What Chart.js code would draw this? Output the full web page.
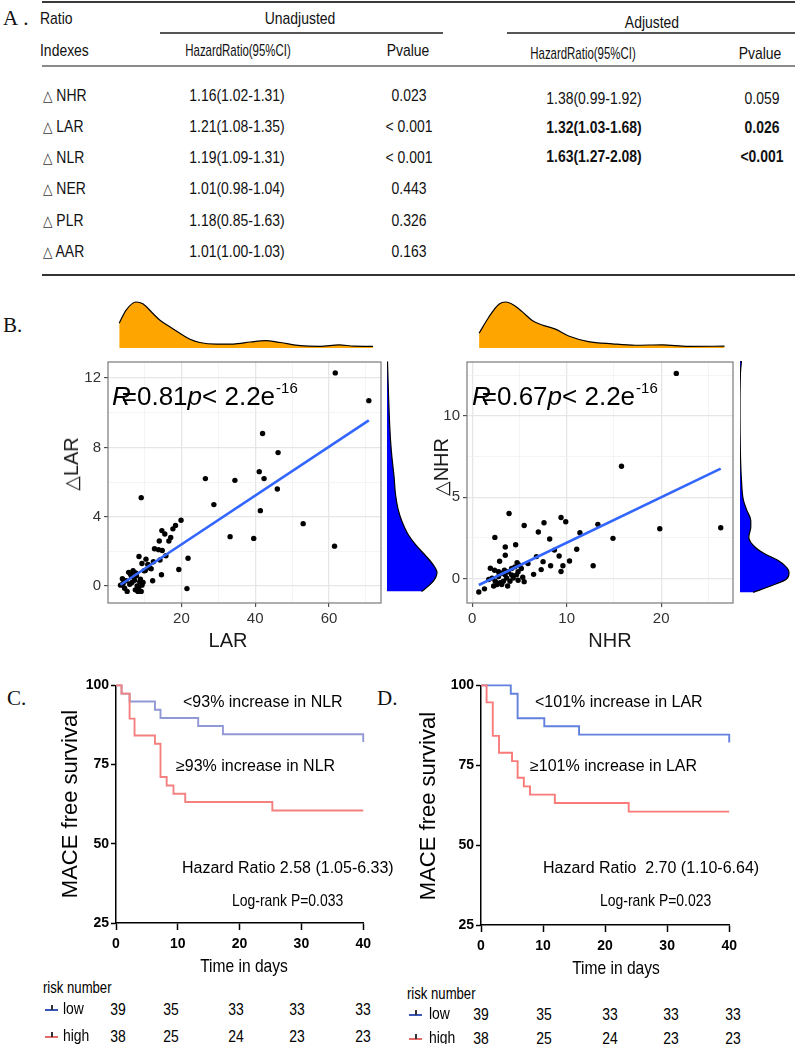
<!DOCTYPE html>
<html>
<head>
<meta charset="utf-8">
<script src="https://cdn.jsdelivr.net/npm/chart.js@4.4.0/dist/chart.umd.min.js"></script>
<style>
  html, body { margin: 0; padding: 0; background: #fff; }
  #fig { position: relative; width: 795px; height: 1044px; overflow: hidden; background: #fff; }
  #fig canvas { position: absolute; }
  .t { position: absolute; white-space: nowrap; line-height: 1; color: #111; }
  .rule { position: absolute; }
  .cor { position: absolute; white-space: nowrap; font-family: "Liberation Sans", Arial, sans-serif;
         font-size: 26px; line-height: 26px; color: #000; }
  .cor .eq { margin-left: -9px; }
  .cor sup { font-size: 15px; vertical-align: 0; position: relative; top: -12px; margin-left: 1px; }
</style>
</head>
<body>
<div id="fig"></div>
<script>
/* --------------- Table A --------------- */
const ratioIndexes = ["NHR", "LAR", "NLR", "NER", "PLR", "AAR"];
const unadjHR = ["1.16(1.02-1.31)", "1.21(1.08-1.35)", "1.19(1.09-1.31)", "1.01(0.98-1.04)", "1.18(0.85-1.63)", "1.01(1.00-1.03)"];
const unadjP = ["0.023", "< 0.001", "< 0.001", "0.443", "0.326", "0.163"];
const adjHR = ["1.38(0.99-1.92)", "1.32(1.03-1.68)", "1.63(1.27-2.08)"];
const adjP = ["0.059", "0.026", "<0.001"];
const adjBold = [false, true, true];

/* --------------- Scatter B (left): LAR vs delta LAR --------------- */
const larX = [61.7, 70.8, 42.0, 46.2, 41.1, 42.4, 26.5, 34.5, 46.0, 9.1, 28.8, 41.4, 53.0, 19.9, 18.4, 17.7, 14.7, 15.5, 17.1, 16.6,
  14.0, 33.2, 39.6, 61.5, 12.7, 13.8, 14.8, 15.8, 14.2, 8.5, 21.8, 10.4, 9.3, 10.9, 11.3, 19.3, 14.6, 12.2, 21.5,
  3.5, 4.0, 4.6, 5.3, 5.7, 6.4, 6.9, 7.3, 7.5, 8.0, 8.2, 8.7, 9.1, 9.3, 9.9, 4.2, 5.0, 6.0, 6.6, 7.0,
  7.8, 8.4, 8.9, 9.6, 10.2, 11.0, 11.8, 12.4, 6.2, 7.6];
const larDelta = [12.3, 10.7, 8.8, 7.7, 6.6, 6.2, 6.2, 6.1, 5.6, 5.1, 4.7, 4.35, 3.6, 3.8, 3.5, 3.3, 3.2, 3.0, 2.8, 2.6,
  2.6, 2.85, 2.75, 2.3, 2.15, 2.1, 2.05, 1.75, 1.5, 1.7, 1.6, 1.55, 1.3, 1.25, 1.05, 0.95, 0.65, 0.3, -0.15,
  0.05, 0.42, -0.13, -0.31, 0.79, 0.6, 0.88, 0.33, -0.22, 0.0, -0.31, 0.24, -0.31, 0.05, 0.88, 0.15, 0.3, 0.1, 0.2, 0.5,
  0.6, -0.1, 0.4, 0.2, 0.9, 1.2, 1.0, 1.4, 0.7, 0.75];
const larFit = [-0.42, 0.141];           // intercept, slope
const larDensX = [3.1, 4.9, 7.6, 9.4, 12.1, 13.9, 16.6, 19.3, 22.0, 24.6, 29.1, 33.6, 38.1, 42.1, 46.1, 51.5, 56.8, 61.8, 65.8, 70.9];
const larDensH = [0.54, 0.82, 1.0, 0.96, 0.75, 0.61, 0.46, 0.32, 0.19, 0.12, 0.086, 0.086, 0.13, 0.16, 0.12, 0.05, 0.036, 0.07, 0.04, 0.036];
const larDeltaDensY = [-0.35, 0.0, 0.4, 0.7, 1.1, 1.6, 2.2, 2.8, 3.5, 4.2, 5.0, 6.0, 7.0, 8.0, 9.0, 10.5, 12.3];
const larDeltaDensW = [0.69, 0.85, 0.97, 1.0, 0.93, 0.78, 0.58, 0.42, 0.30, 0.22, 0.17, 0.14, 0.10, 0.07, 0.05, 0.03, 0.01];

/* --------------- Scatter B (right): NHR vs delta NHR --------------- */
const nhrX = [21.6, 15.8, 19.85, 26.3, 3.9, 9.4, 9.9, 7.6, 5.5, 13.3, 7.0, 11.4, 2.4, 8.2, 14.9, 4.6, 3.5, 11.06, 3.5, 9.2,
  6.8, 8.7, 2.9, 7.5, 10.3, 9.6, 12.8, 8.3, 5.9, 4.75, 9.4, 7.3, 6.5, 5.35, 5.5, 4.86, 0.7, 1.3,
  1.92, 2.37, 2.79, 3.13, 3.48, 3.82, 4.17, 4.52, 3.65, 3.3, 2.96, 2.62, 2.27, 4.0, 4.34, 2.1, 1.75, 2.44, 3.13, 3.75,
  4.69, 4.86, 2.79, 4.17, 3.41, 5.03, 5.2];
const nhrDelta = [12.6, 6.9, 3.06, 3.12, 4.0, 3.75, 3.49, 3.43, 3.26, 3.33, 2.86, 2.82, 2.53, 2.43, 2.47, 2.08, 1.94, 1.8, 1.43, 1.39,
  1.35, 1.75, 1.06, 1.04, 1.08, 0.79, 0.79, 0.79, 0.92, 0.98, 0.43, 0.55, 0.26, 0.08, -0.19, -0.1, -0.82, -0.63,
  0.63, 0.51, 0.42, 0.33, 0.23, 0.42, 0.62, 0.72, 0.03, -0.16, -0.26, -0.36, -0.46, -0.16, 0.03, 0.03, -0.06, -0.16, -0.36, -0.46,
  0.23, 0.42, 0.13, 0.23, 0.52, 0.82, 0.62];
const nhrFit = [-0.59, 0.279];
const nhrDensX = [0.71, 1.75, 2.78, 3.48, 4.34, 5.2, 6.25, 7.29, 8.67, 10.05, 12.1, 14.6, 17.0, 19.8, 22.5, 26.3];
const nhrDensH = [0.32, 0.68, 0.95, 1.0, 0.93, 0.79, 0.60, 0.50, 0.41, 0.26, 0.14, 0.09, 0.06, 0.07, 0.036, 0.04];
const nhrDeltaDensY = [-0.88, -0.49, -0.1, 0.29, 0.59, 0.98, 1.37, 1.76, 2.35, 2.94, 3.33, 3.92, 4.5, 5.69, 7.06, 10.0, 12.0, 12.65];
const nhrDeltaDensW = [0.27, 0.64, 0.95, 1.0, 0.95, 0.78, 0.51, 0.31, 0.18, 0.22, 0.22, 0.14, 0.07, 0.03, 0.01, 0.0, 0.01, 0.03];

/* --------------- Kaplan-Meier C (NLR) and D (LAR) --------------- */
const kmTimesC_low = [0, 0.9, 2.2, 6.3, 7.2, 13.3, 17.3, 40];
const kmSurvC_low = [100, 97.4, 94.9, 92.3, 89.7, 87.2, 84.6, 82.1];
const kmTimesC_high = [0, 0.9, 2.2, 3.0, 6.3, 7.2, 8.2, 9.3, 11.2, 25.3, 40];
const kmSurvC_high = [100, 97.4, 89.5, 84.2, 81.6, 71.1, 68.4, 65.8, 63.2, 60.5, 60.5];
const kmTimesD_low = [0, 4.8, 5.9, 10.2, 15.8, 40];
const kmSurvD_low = [100, 97.4, 89.7, 87.2, 84.6, 82.1];
const kmTimesD_high = [0, 0.9, 1.9, 2.9, 5.0, 5.9, 6.9, 7.9, 11.9, 23.8, 40];
const kmSurvD_high = [100, 94.7, 84.2, 78.9, 76.3, 71.1, 68.4, 65.8, 63.2, 60.5, 60.5];
const riskTimes = [0, 10, 20, 30, 40];
const riskLow = [39, 35, 33, 33, 33];
const riskHigh = [38, 25, 24, 23, 23];

/* --------------- Helpers --------------- */
const FIG = document.getElementById("fig");
const SANS = '"Liberation Sans", Arial, sans-serif';

const probe = document.createElement("canvas").getContext("2d");
function hasFont(name) {
  probe.font = "20px monospace";
  const a = probe.measureText("HazardRatio 0123").width;
  probe.font = `20px "${name}", monospace`;
  const b = probe.measureText("HazardRatio 0123").width;
  return Math.abs(a - b) > 0.5;
}
const HAS_NARROW = hasFont("Liberation Sans Narrow");
const NARROW = HAS_NARROW ? '"Liberation Sans Narrow", ' + SANS : SANS;
const SX = HAS_NARROW ? 1 : 0.82;

function put(html, x, y, o = {}) {
  const d = document.createElement("div");
  d.className = "t";
  d.innerHTML = html;
  d.style.fontFamily = o.narrow ? NARROW : (o.family || SANS);
  d.style.fontSize = (o.size || 16) + "px";
  if (o.bold) d.style.fontWeight = "bold";
  if (o.color) d.style.color = o.color;
  if (o.spacing) d.style.letterSpacing = o.spacing + "px";
  const a = o.align || "center";
  d.style.left = x + "px";
  d.style.top = y + "px";
  let tf = `translate(${a === "left" ? "0" : a === "right" ? "-100%" : "-50%"},-50%)`;
  if (o.rot) tf += ` rotate(${o.rot}deg)`;
  const sx = (o.narrow ? SX : 1) * (o.sx || 1);
  if (sx !== 1) tf += ` scaleX(${sx})`;
  d.style.transformOrigin = a === "left" ? "left center" : a === "right" ? "right center" : "center center";
  d.style.transform = tf;
  FIG.appendChild(d);
  return d;
}

function rule(x1, x2, y, w, color) {
  const d = document.createElement("div");
  d.className = "rule";
  d.style.cssText = `left:${x1}px;top:${y - w / 2}px;width:${x2 - x1}px;height:${w}px;background:${color}`;
  FIG.appendChild(d);
}

function makeCanvas(left, top, w, h) {
  const c = document.createElement("canvas");
  c.width = w; c.height = h;
  c.style.left = left + "px"; c.style.top = top + "px";
  c.style.width = w + "px"; c.style.height = h + "px";
  FIG.appendChild(c);
  return c;
}

const framePlugin = {
  id: "frame",
  afterDraw(chart, args, opts) {
    if (!opts.color) return;
    const { ctx, chartArea: a } = chart;
    ctx.save();
    ctx.strokeStyle = opts.color;
    ctx.lineWidth = opts.width || 1;
    ctx.strokeRect(a.left, a.top, a.right - a.left, a.bottom - a.top);
    ctx.restore();
  }
};

Chart.defaults.font.family = SANS;
Chart.defaults.animation = false;
Chart.defaults.responsive = false;
Chart.defaults.events = [];
Chart.defaults.plugins.legend.display = false;
Chart.defaults.plugins.tooltip.enabled = false;

/* --------------- Table A --------------- */
const serif = '"Liberation Serif", "DejaVu Serif", serif';
put("A.", 3, 18, { align: "left", family: serif, size: 21, spacing: 5 });
rule(42, 795, 1.5, 2, "#3a3a3a");
put("Ratio", 40, 18, { align: "left", narrow: true, size: 17 });
put("Unadjusted", 300, 18, { narrow: true, size: 17 });
rule(160, 443, 33, 1.5, "#555");
put("Adjusted", 652, 22, { narrow: true, size: 17 });
rule(507, 795, 33, 1.5, "#555");
put("Indexes", 40, 50, { align: "left", narrow: true, size: 17 });
put("HazardRatio(95%CI)", 238, 50, { narrow: true, size: 17, sx: 0.82 });
put("Pvalue", 408, 50, { narrow: true, size: 17 });
put("HazardRatio(95%CI)", 583, 53, { narrow: true, size: 17, sx: 0.82 });
put("Pvalue", 760, 53, { narrow: true, size: 17 });
rule(42, 795, 66, 2, "#8a8a8a");

const rowY = [95, 126, 157, 188, 220, 251];
const adjRowY = [98, 127, 156];
ratioIndexes.forEach((name, i) => {
  put('<span style="font-family:\'DejaVu Sans\';font-size:15px;color:#333">\u25B3</span> ' + name, 43, rowY[i], { align: "left", narrow: true, size: 17 });
  put(unadjHR[i], 237, rowY[i], { narrow: true, size: 17 });
  put(unadjP[i], 409, rowY[i], { narrow: true, size: 17 });
});
adjHR.forEach((v, i) => {
  put(v, 594, adjRowY[i], { narrow: true, size: 17, bold: adjBold[i] });
  put(adjP[i], 762, adjRowY[i], { narrow: true, size: 17, bold: adjBold[i] });
});
rule(42, 795, 275, 2, "#333");

/* --------------- Panel B --------------- */
put("B.", 3, 325, { align: "left", family: serif, size: 21 });

function isMajor(v, every) {
  return Math.abs(v / every - Math.round(v / every)) < 1e-6;
}
function ggAxis(range, step, every, afterFit) {
  return {
    type: "linear", min: range[0], max: range[1], afterFit,
    ticks: {
      stepSize: step, includeBounds: false, autoSkip: false, maxRotation: 0,
      color: "#333", padding: 3, font: { size: 15 },
      callback: (v) => (isMajor(v, every) ? String(v) : "")
    },
    grid: {
      color: (c) => (isMajor(c.tick.value, every) ? "#E6E6E6" : "#F1F1F1"),
      lineWidth: (c) => (isMajor(c.tick.value, every) ? 1.3 : 0.8),
      tickColor: (c) => (isMajor(c.tick.value, every) ? "#333" : "rgba(0,0,0,0)"),
      tickLength: 4, tickWidth: 1
    },
    border: { display: false }
  };
}

function scatterPanel(box, xs, ys, fit, xr, yr, xStep, yStep, xEvery, yEvery) {
  const yAxisW = 50, xAxisH = 30;
  const c = makeCanvas(box.left - yAxisW, box.top, box.w + yAxisW, box.h + xAxisH);
  const pts = xs.map((x, i) => ({ x, y: ys[i] }));
  const x0 = Math.min(...xs), x1 = Math.max(...xs);
  return new Chart(c, {
    type: "scatter",
    plugins: [framePlugin],
    data: {
      datasets: [
        { data: pts, pointRadius: 2.7, pointBackgroundColor: "#000", pointBorderWidth: 0, order: 1 },
        {
          type: "line", order: 0, pointRadius: 0, borderColor: "#3366FF", borderWidth: 2.6,
          data: [{ x: x0, y: fit[0] + fit[1] * x0 }, { x: x1, y: fit[0] + fit[1] * x1 }]
        }
      ]
    },
    options: {
      layout: { padding: 0 },
      plugins: { frame: { color: "#7a7a7a", width: 1.2 } },
      scales: {
        x: ggAxis(xr, xStep, xEvery, (s) => { s.height = xAxisH; }),
        y: ggAxis(yr, yStep, yEvery, (s) => { s.width = yAxisW; })
      }
    }
  });
}

function densityTop(box, xr, xs, hs, hMax) {
  const c = makeCanvas(box.left, box.top, box.w, box.h);
  return new Chart(c, {
    type: "line",
    data: { datasets: [{
      data: xs.map((x, i) => ({ x, y: hs[i] })),
      borderColor: "#000", borderWidth: 1.2, backgroundColor: "#FFA500",
      fill: "origin", pointRadius: 0, cubicInterpolationMode: "monotone", clip: false
    }] },
    options: {
      layout: { padding: 0 },
      scales: {
        x: { type: "linear", display: false, min: xr[0], max: xr[1] },
        y: { type: "linear", display: false, min: 0, max: hMax }
      }
    }
  });
}

function densityRight(box, yr, ys, ws, wMax) {
  const c = makeCanvas(box.left, box.top, box.w, box.h);
  return new Chart(c, {
    type: "line",
    data: { datasets: [{
      data: ys.map((y, i) => ({ x: ws[i], y })),
      borderColor: "#000", borderWidth: 1.2, backgroundColor: "#0000FF",
      fill: "origin", pointRadius: 0, cubicInterpolationMode: "monotone", clip: false
    }] },
    options: {
      indexAxis: "y",
      layout: { padding: 0 },
      scales: {
        x: { type: "linear", display: false, min: 0, max: wMax },
        y: { type: "linear", display: false, min: yr[0], max: yr[1] }
      }
    }
  });
}

// left: LAR
const larXRange = [0.1, 74.1], larYRange = [-0.98, 12.93];
densityTop({ left: 108, top: 295, w: 277, h: 53 }, larXRange, larDensX, larDensH, 53 / 46);
densityRight({ left: 387, top: 350, w: 60, h: 253 }, larYRange, larDeltaDensY, larDeltaDensW, 60 / 50);
scatterPanel({ left: 108, top: 350, w: 277, h: 253 }, larX, larDelta, larFit, larXRange, larYRange, 10, 2, 20, 4);

// right: NHR
const nhrXRange = [-0.55, 27.6], nhrYRange = [-1.5, 13.3];
densityTop({ left: 467, top: 295, w: 270, h: 53 }, nhrXRange, nhrDensX, nhrDensH, 53 / 46);
densityRight({ left: 740, top: 350, w: 55, h: 253 }, nhrYRange, nhrDeltaDensY, nhrDeltaDensW, 55 / 49);
scatterPanel({ left: 467, top: 350, w: 270, h: 253 }, nhrX, nhrDelta, nhrFit, nhrXRange, nhrYRange, 5, 2.5, 10, 5);

const triangle = '<span style="font-family:\'DejaVu Sans\';font-size:19px">\u25B3</span>';
put(triangle + "LAR", 71, 464, { size: 20, rot: -90, color: "#1a1a1a" });
put(triangle + "NHR", 441, 467, { size: 20, rot: -90, color: "#1a1a1a" });
put("LAR", 228, 640, { size: 20, color: "#1a1a1a" });
put("NHR", 610, 640, { size: 20, color: "#1a1a1a" });

function corLabel(x, r) {
  const d = document.createElement("div");
  d.className = "cor";
  d.style.left = x + "px";
  d.style.top = "383px";
  d.innerHTML = `<i>R</i><span class="eq">=</span>${r}<i>p</i>&lt; 2.2e<sup>-16</sup>`;
  FIG.appendChild(d);
}
corLabel(112, "0.81");
corLabel(472, "0.67");

/* --------------- Panels C and D --------------- */
const tickFam = HAS_NARROW ? NARROW : SANS;
const tickSize = HAS_NARROW ? 17 : 14;

function kmPanel(box, series) {
  const yAxisW = 45, xAxisH = 34, padTop = 10, padRight = 12;
  const c = makeCanvas(box.left - yAxisW, box.top - padTop, box.w + yAxisW + padRight, box.h + padTop + xAxisH);
  return new Chart(c, {
    type: "line",
    data: {
      datasets: series.map((s) => ({
        data: s.t.map((t, i) => ({ x: t, y: s.s[i] })),
        borderColor: s.color, borderWidth: 1.9, pointRadius: 0, fill: false,
        stepped: true, clip: 6, order: s.order
      }))
    },
    options: {
      layout: { padding: { top: padTop, right: padRight, left: 0, bottom: 0 } },
      scales: {
        x: {
          type: "linear", min: 0, max: 40, afterFit: (s) => { s.height = xAxisH; },
          ticks: { stepSize: 10, autoSkip: false, maxRotation: 0, color: "#000", padding: 6,
                   font: { family: tickFam, weight: "bold", size: tickSize } },
          grid: { display: true, drawOnChartArea: false, tickLength: 7, tickColor: "#000", tickWidth: 1.5 },
          border: { display: true, color: "#000", width: 1.5 }
        },
        y: {
          type: "linear", min: 25, max: 100, afterFit: (s) => { s.width = yAxisW; },
          ticks: { stepSize: 25, color: "#000", padding: 2,
                   font: { family: SANS, weight: "bold", size: 14 } },
          grid: { display: true, drawOnChartArea: false, tickLength: 5, tickColor: "#000", tickWidth: 1.5 },
          border: { display: true, color: "#000", width: 1.5 }
        }
      }
    }
  });
}

kmPanel({ left: 116, top: 685, w: 249, h: 238 }, [
  { t: kmTimesC_low, s: kmSurvC_low, color: "rgb(145,152,214)", order: 1 },
  { t: kmTimesC_high, s: kmSurvC_high, color: "rgb(244,128,128)", order: 0 }
]);
kmPanel({ left: 481, top: 685, w: 250, h: 240 }, [
  { t: kmTimesD_low, s: kmSurvD_low, color: "rgb(98,128,222)", order: 1 },
  { t: kmTimesD_high, s: kmSurvD_high, color: "rgb(250,122,122)", order: 0 }
]);

put("C.", 7, 698, { align: "left", family: serif, size: 21 });
put("D.", 377, 698, { align: "left", family: serif, size: 21 });

put("MACE free survival", 70, 804, { size: 22, rot: -90, color: "#000" });
put("MACE free survival", 428, 806, { size: 22, rot: -90, color: "#000" });
put("Time in days", 244, 965, { narrow: true, size: 19, color: "#000" });
put("Time in days", 616, 967, { narrow: true, size: 19, color: "#000" });

put("&lt;93% increase in NLR", 183, 702, { align: "left", size: 16, color: "#000" });
put("\u226593% increase in NLR", 176, 766, { align: "left", size: 16, color: "#000" });
put("Hazard Ratio 2.58 (1.05-6.33)", 182, 868, { align: "left", size: 16, color: "#000" });
put("Log-rank P=0.033", 232, 900, { align: "left", narrow: true, size: 17, color: "#000" });

put("&lt;101% increase in LAR", 535, 702, { align: "left", size: 16, color: "#000" });
put("\u2265101% increase in LAR", 530, 766, { align: "left", size: 16, color: "#000" });
put("Hazard Ratio&nbsp; 2.70 (1.10-6.64)", 543, 868, { align: "left", size: 16, color: "#000" });
put("Log-rank P=0.023", 600, 900, { align: "left", narrow: true, size: 17, color: "#000" });

/* risk tables */
function marker(x, y, color) {
  rule(x, x + 13, y, 2, color);
  const d = document.createElement("div");
  d.className = "rule";
  d.style.cssText = `left:${x + 6}px;top:${y - 5}px;width:1.5px;height:5px;background:#333`;
  FIG.appendChild(d);
}
function riskTable(o) {
  put("risk number", o.left, o.yTitle, { align: "left", narrow: true, size: 16, color: "#000" });
  marker(o.left + 2, o.yLow + 2, o.lowColor);
  marker(o.left + 2, o.yHigh + 2, o.highColor);
  put("low", o.labelX, o.yLow, { align: "left", narrow: true, size: 17, color: "#000" });
  put("high", o.labelX, o.yHigh, { align: "left", narrow: true, size: 17, color: "#000" });
  riskTimes.forEach((t, i) => {
    put(String(riskLow[i]), o.cols[i], o.yLow + 1, { narrow: true, size: 17, color: "#000" });
    put(String(riskHigh[i]), o.cols[i], o.yHigh + 1, { narrow: true, size: 17, color: "#000" });
  });
}
riskTable({ left: 43, labelX: 63, yTitle: 988, yLow: 1008, yHigh: 1035,
  cols: [118, 171, 236, 297, 363], lowColor: "#3a55b8", highColor: "#e46a6a" });
riskTable({ left: 407, labelX: 429, yTitle: 994, yLow: 1013, yHigh: 1037,
  cols: [481, 544, 610, 671, 733], lowColor: "#3a55b8", highColor: "#e46a6a" });
</script>
</body>
</html>
